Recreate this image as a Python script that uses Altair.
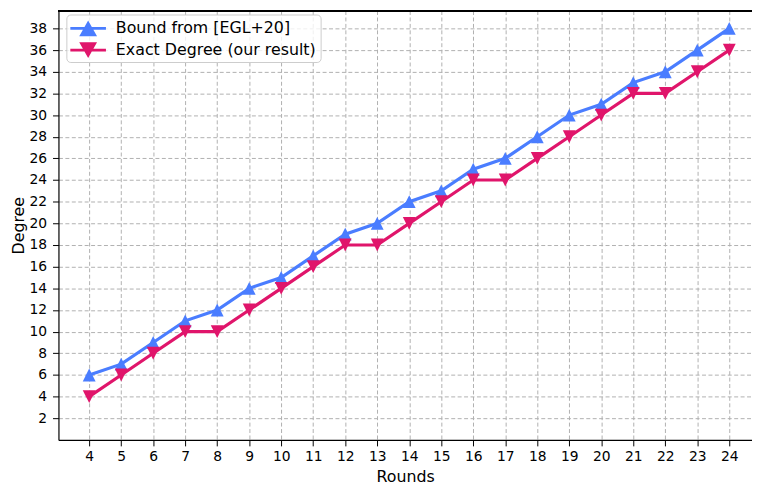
import altair as alt
import pandas as pd

rounds = list(range(4, 25))
bound = [6, 7, 9, 11, 12, 14, 15, 17, 19, 20, 22, 23, 25, 26, 28, 30, 31, 33, 34, 36, 38]
exact = [4, 6, 8, 10, 10, 12, 14, 16, 18, 18, 20, 22, 24, 24, 26, 28, 30, 32, 32, 34, 36]
names = ["Bound from [EGL+20]", "Exact Degree (our result)"]
colors = ["#4a7dff", "#e0156b"]
y_ticks = list(range(2, 39, 2))

df = pd.DataFrame({
    "round": rounds * 2,
    "degree": bound + exact,
    "series": [names[0]] * len(rounds) + [names[1]] * len(rounds),
})

W, H = 701, 434
FONT = "DejaVu Sans"

xenc = alt.X("round:Q", title="Rounds",
             scale=alt.Scale(domain=[3.04, 24.71], nice=False, zero=False),
             axis=alt.Axis(values=rounds, format="d"))
yenc = alt.Y("degree:Q", title="Degree",
             scale=alt.Scale(domain=[0, 39.65], nice=False, zero=False),
             axis=alt.Axis(values=y_ticks, format="d"))

tri_up = "M0,-1L1,1L-1,1Z"
tri_down = "M0,1L-1,-1L1,-1Z"
leg_up = "M-1,-0.15L2.6,-0.15L2.6,0.15L-1,0.15Z M0.8,-0.8L1.7,0.8L-0.1,0.8Z"
leg_down = "M-1,-0.15L2.6,-0.15L2.6,0.15L-1,0.15Z M0.8,0.8L-0.1,-0.8L1.7,-0.8Z"

base = alt.Chart(df)
layers = []
for name, col, shp in zip(names, colors, [tri_up, tri_down]):
    sub = base.transform_filter(alt.datum.series == name)
    layers.append(sub.mark_line(color=col, strokeWidth=3.2).encode(x=xenc, y=yenc))
    layers.append(sub.mark_point(filled=True, color=col, shape=shp, size=169, opacity=1,
                                 strokeWidth=0).encode(x=xenc, y=yenc))

legend_kw = dict(orient="none", legendX=8, legendY=4, title=None,
                 fillColor="rgba(255,255,255,0.8)", strokeColor="#cccccc",
                 cornerRadius=4, padding=4, rowPadding=4, labelOffset=26,
                 symbolSize=400, symbolStrokeWidth=0, symbolOpacity=1,
                 labelFontSize=16, labelFont=FONT, labelColor="black", labelLimit=400)

legend_layer = base.mark_point(filled=True, opacity=0, size=400).encode(
    x=xenc, y=yenc,
    color=alt.Color("series:N", scale=alt.Scale(domain=names, range=colors),
                    legend=alt.Legend(**legend_kw)),
    shape=alt.Shape("series:N", scale=alt.Scale(domain=names, range=[leg_up, leg_down]),
                    legend=alt.Legend(**legend_kw)),
)
layers.append(legend_layer)

top_border = base.mark_rule(color="black", strokeWidth=1).encode(
    x=alt.value(0), x2=alt.value(W), y=alt.value(0.5))
layers.append(top_border)

chart = alt.layer(*layers).properties(
    width=W, height=H,
    autosize=alt.AutoSizeParams(type="none"),
    padding={"left": 51, "top": 0, "right": 0, "bottom": 46},
).configure_view(stroke=None).configure_axis(
    labelFont=FONT, labelFontSize=14, labelColor="black",
    titleFont=FONT, titleFontSize=16, titleFontWeight="normal", titleColor="black",
    domainColor="black", domainWidth=1.2, tickColor="black", tickSize=6, tickWidth=1,
    grid=True, gridColor="#b0b0b0", gridDash=[4, 2.5], gridWidth=1, gridOpacity=1,
).configure_axisX(labelPadding=4, titlePadding=5).configure_axisY(labelPadding=6, titlePadding=3)

chart.save("out.html", embed_options={"renderer": "svg", "actions": False})
